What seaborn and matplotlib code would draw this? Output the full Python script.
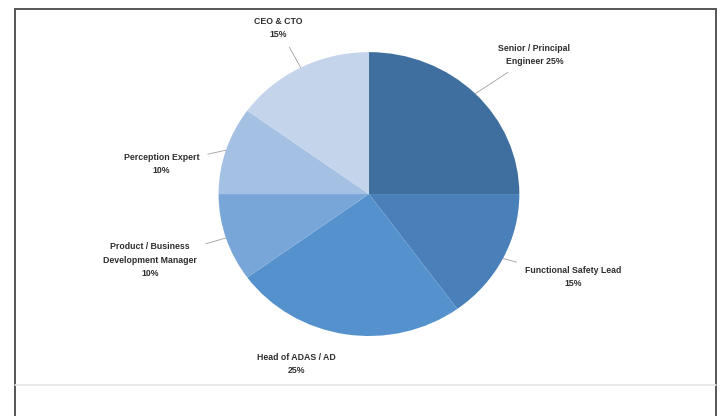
import matplotlib
matplotlib.use("Agg")
import matplotlib.pyplot as plt
from matplotlib.lines import Line2D
from matplotlib.patches import Rectangle
import numpy as np
import seaborn as sns

# --- data ---
roles = [
    "Senior / Principal\nEngineer 25%",
    "Functional Safety Lead\n15%",
    "Head of ADAS / AD\n25%",
    "Product / Business\nDevelopment Manager\n10%",
    "Perception Expert\n10%",
    "CEO & CTO\n15%",
]
shares = [25, 15, 25, 10, 10, 15]
colors = ["#3f6f9f", "#4a80ba", "#5592cd", "#79a6d9", "#a4c0e3", "#c4d4eb"]

# label centres (data units of the pie, radius 1) and whether to draw a leader
label_pos = [(1.10, 0.98), (1.36, -0.585), (-0.485, -1.20),
             (-1.455, -0.465), (-1.38, 0.21), (-0.60, 1.17)]
leaders = [True, True, False, True, True, True]

sns.set_theme(style="white")
plt.rcParams["font.family"] = ["Liberation Sans", "DejaVu Sans"]

fig = plt.figure(figsize=(7.23, 4.16), dpi=100)
ax = fig.add_axes([0.2503, 0.107, 0.520, 0.853])

wedges, _ = ax.pie(shares, colors=colors, startangle=90, counterclock=False,
                   wedgeprops=dict(linewidth=0))
ax.set_aspect("auto")
ax.set_xlim(-1.25, 1.25)
ax.set_ylim(-1.25, 1.25)
ax.axis("off")

for w, text, pos, lead in zip(wedges, roles, label_pos, leaders):
    mid = np.deg2rad((w.theta1 + w.theta2) / 2)
    edge = (np.cos(mid), np.sin(mid))
    ax.annotate(text, xy=edge, xytext=pos, ha="center", va="center",
                fontsize=6.3, fontweight="bold", color="#2e2e2e",
                fontstretch="condensed",
                linespacing=1.6, annotation_clip=False,
                arrowprops=dict(arrowstyle="-", color="#a0a0a0", lw=0.6,
                                shrinkA=4, shrinkB=0) if lead else None)

# frame around the chart and the light divider line below it
fig.patches.append(Rectangle((15 / 723, -0.05), (716 - 15) / 723, 1 - 9 / 416 + 0.05,
                             transform=fig.transFigure, fill=False,
                             edgecolor="#555555", lw=1.4))
fig.lines.append(Line2D([15 / 723, 716 / 723], [1 - 385 / 416] * 2,
                        transform=fig.transFigure, color="#e6e6e6", lw=1.2))

fig.savefig("out.png", dpi=100)
